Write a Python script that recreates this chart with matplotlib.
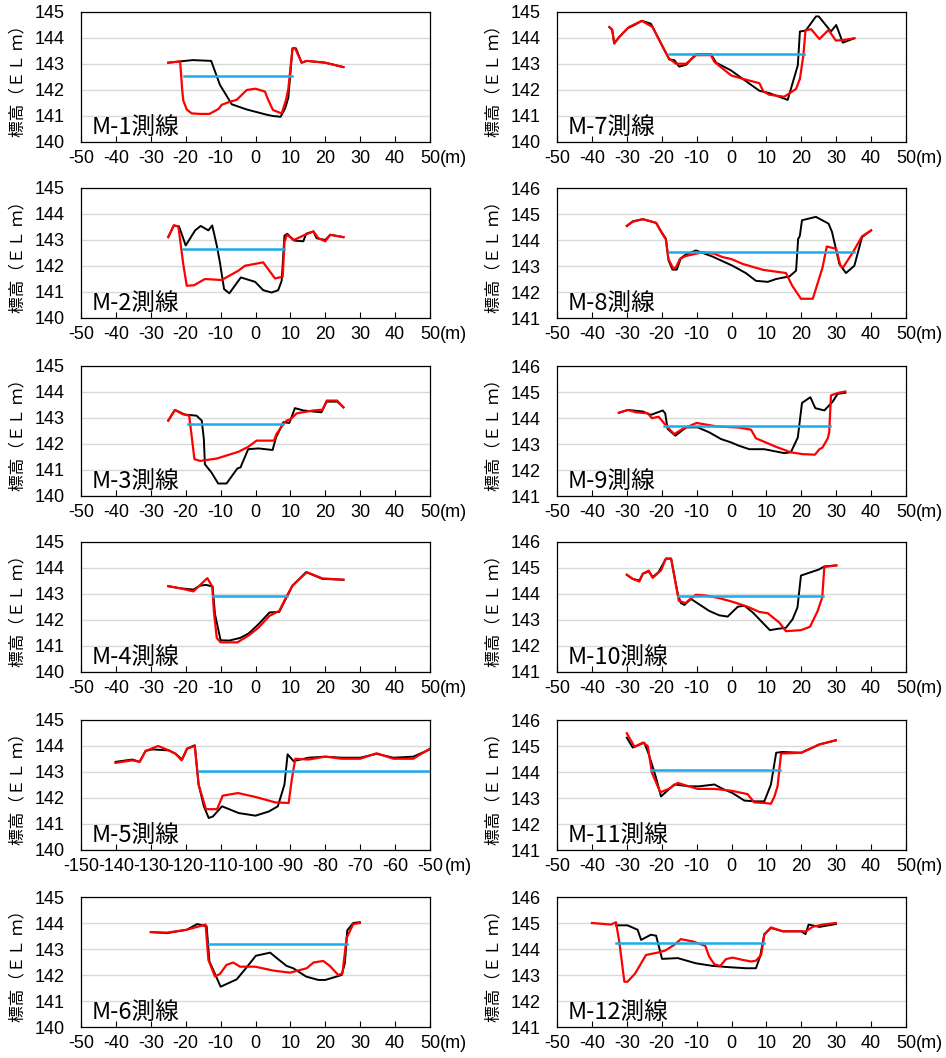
import matplotlib
matplotlib.use("Agg")
import matplotlib.pyplot as plt

plt.rcParams["font.family"] = ["Liberation Sans", "Noto Sans CJK JP"]
plt.rcParams["axes.unicode_minus"] = False

# ---- データ ----
m1_blk_x = [-25, -21.6, -18, -12.7, -10.2, -6.8, -2.5, 3.2, 5, 7.2, 8.5, 9.4, 10.6, 11.6, 13.2, 14.7, 20, 25.2]
m1_blk_y = [143.05, 143.1, 143.15, 143.12, 142.2, 141.45, 141.25, 141.05, 141.0, 140.97, 141.3, 141.7, 143.6, 143.6, 143.05, 143.12, 143.05, 142.88]
m1_red_x = [-25, -21.6, -21, -20.7, -19.7, -18.3, -15.9, -13.2, -10.6, -9.7, -7.3, -5.4, -2.5, 0, 2.7, 3.7, 5, 7.5, 8.7, 9.4, 10.6, 11.3, 13.2, 14.7, 20, 25.2]
m1_red_y = [143.05, 143.1, 142.0, 141.6, 141.25, 141.1, 141.08, 141.08, 141.27, 141.43, 141.55, 141.62, 142.0, 142.05, 141.94, 141.6, 141.23, 141.1, 141.6, 142.04, 143.6, 143.62, 143.05, 143.12, 143.05, 142.88]
m1_wx, m1_wl = [-20.6, 10.5], 142.52

m2_blk_x = [-25, -23.4, -21.9, -20, -17.3, -15.7, -13.5, -12.4, -11.1, -10.2, -9, -7.5, -4.2, -0.1, 2.2, 4.6, 6.5, 7.5, 8.3, 9.1, 11, 13.7, 14.5, 16.6, 17.5, 20, 21.4, 25.2]
m2_blk_y = [143.11, 143.56, 143.52, 142.79, 143.37, 143.54, 143.37, 143.56, 142.79, 142.14, 141.11, 140.95, 141.56, 141.39, 141.07, 140.98, 141.07, 141.43, 143.17, 143.24, 142.98, 142.95, 143.24, 143.33, 143.07, 143.0, 143.2, 143.11]
m2_red_x = [-25, -23.4, -22.1, -20.7, -19.7, -17.6, -14.5, -9.7, -4.9, -3, 2.2, 5.6, 7.8, 8.3, 9, 11, 13.7, 16.6, 18, 20, 21.4, 25.2]
m2_red_y = [143.11, 143.56, 143.52, 142.07, 141.24, 141.26, 141.5, 141.46, 141.82, 142.01, 142.14, 141.52, 141.59, 142.92, 143.2, 143.0, 143.17, 143.33, 143.07, 142.95, 143.2, 143.11]
m2_wx, m2_wl = [-20.9, 8.3], 142.65

m3_blk_x = [-25, -23.1, -20.2, -16.9, -15.4, -14.8, -14.5, -12.6, -10.7, -8.3, -5.2, -4.3, -2.1, 0.8, 4.9, 5.9, 8, 9.7, 11.3, 13.7, 16.6, 18.9, 20.4, 23.4, 25.2]
m3_blk_y = [142.9, 143.31, 143.13, 143.09, 142.9, 142.19, 141.22, 140.9, 140.48, 140.48, 141.06, 141.1, 141.8, 141.83, 141.77, 142.26, 142.84, 142.81, 143.38, 143.29, 143.25, 143.22, 143.63, 143.63, 143.41]
m3_red_x = [-25, -23.1, -20.9, -19, -17.5, -15.9, -11.1, -4.9, -2.1, 0.3, 5.3, 6, 8, 8.9, 10.1, 11.8, 16.6, 19.2, 20.4, 23.4, 25.2]
m3_red_y = [142.9, 143.31, 143.15, 143.09, 141.42, 141.35, 141.44, 141.7, 141.89, 142.13, 142.13, 142.38, 142.77, 142.9, 142.96, 143.18, 143.29, 143.32, 143.67, 143.67, 143.41]
m3_wx, m3_wl = [-19.2, 8], 142.77

m4_blk_x = [-25, -21.6, -17.8, -15.9, -14.2, -12.3, -11.6, -10, -7.5, -4.4, -2, 0.8, 4, 6.8, 8.9, 10.6, 14.5, 19.2, 25.2]
m4_blk_y = [143.3, 143.22, 143.17, 143.32, 143.35, 143.29, 142.22, 141.22, 141.21, 141.31, 141.48, 141.83, 142.29, 142.31, 142.87, 143.32, 143.84, 143.58, 143.55]
m4_red_x = [-25, -21.6, -17.8, -13.8, -12.4, -11.9, -11.1, -10, -5.2, -2, 0.8, 4, 6.8, 8.9, 10.6, 14.7, 19.2, 25.2]
m4_red_y = [143.3, 143.22, 143.1, 143.61, 143.29, 142.29, 141.31, 141.14, 141.14, 141.4, 141.7, 142.16, 142.35, 142.91, 143.32, 143.84, 143.6, 143.55]
m4_wx, m4_wl = [-12.1, 9.1], 142.91

m5_blk_x = [-140.1, -135.3, -133.2, -131.5, -129.6, -124.8, -122.9, -121, -119.6, -117.4, -116.3, -114.8, -113.4, -112.2, -109.6, -104.8, -100, -96.2, -93.6, -91.7, -90.8, -89.1, -84.8, -80, -75.3, -70, -65.3, -60.5, -54.8, -50]
m5_blk_y = [143.39, 143.48, 143.39, 143.81, 143.87, 143.83, 143.7, 143.48, 143.9, 144.03, 142.52, 141.68, 141.23, 141.29, 141.68, 141.42, 141.32, 141.48, 141.68, 142.52, 143.68, 143.42, 143.55, 143.59, 143.55, 143.55, 143.7, 143.55, 143.59, 143.87]
m5_red_x = [-140.1, -135.3, -133.2, -131.5, -127.9, -124.8, -122.9, -121.2, -119.6, -117.4, -116.3, -114.2, -111, -109.4, -105, -100, -94.3, -90.5, -89.6, -88.6, -84.8, -80, -75.3, -70, -65.3, -60.5, -54.8, -50]
m5_red_y = [143.35, 143.45, 143.39, 143.81, 144.0, 143.83, 143.7, 143.45, 143.9, 144.0, 142.52, 141.57, 141.57, 142.09, 142.19, 142.04, 141.83, 141.81, 142.71, 143.51, 143.48, 143.59, 143.51, 143.51, 143.72, 143.51, 143.51, 143.9]
m5_wx, m5_wl = [-116.1, -50], 143.03

m6_blk_x = [-30, -25.4, -19.7, -16.7, -14, -13.2, -12.1, -10, -5.4, -2.5, 0.1, 4.2, 6.1, 8.9, 10.8, 14.5, 18, 20, 24.7, 25.6, 26.3, 28, 29.9]
m6_blk_y = [143.65, 143.61, 143.74, 143.96, 143.87, 142.52, 142.19, 141.55, 141.83, 142.3, 142.74, 142.86, 142.65, 142.35, 142.26, 141.94, 141.81, 141.81, 142.0, 142.45, 143.72, 144.0, 144.03]
m6_red_x = [-30, -25.4, -19.7, -14.3, -13.5, -11.6, -10.2, -8.3, -6.4, -4.4, -0.1, 5.1, 9.9, 14.7, 16.6, 19.4, 21.3, 23.7, 24.9, 26.1, 28, 29.9]
m6_red_y = [143.65, 143.63, 143.74, 143.94, 142.58, 141.94, 142.04, 142.39, 142.48, 142.32, 142.32, 142.17, 142.09, 142.26, 142.48, 142.54, 142.35, 142.0, 142.06, 143.42, 143.96, 144.0]
m6_wx, m6_wl = [-13.2, 26.3], 143.19

m7_blk_x = [-35, -34.2, -33.6, -32.1, -29.7, -27.8, -25.7, -23.1, -17.8, -16.4, -15, -13, -10.2, -5.9, -4.4, -0.1, 3.2, 8, 10.8, 16.1, 19.0, 19.6, 21.3, 24.2, 25, 28.5, 30, 31.9, 35.2]
m7_blk_y = [144.42, 144.32, 143.79, 144.05, 144.38, 144.5, 144.66, 144.55, 143.17, 143.15, 142.9, 142.97, 143.38, 143.38, 143.05, 142.75, 142.43, 141.97, 141.88, 141.62, 142.95, 144.25, 144.29, 144.83, 144.83, 144.25, 144.5, 143.82, 143.99]
m7_red_x = [-35, -34.2, -33.6, -32.1, -29.4, -25.7, -22.6, -19.7, -18, -15.9, -13, -10.2, -5.9, -4.9, -2.5, -0.1, 3.2, 8, 9.1, 10.8, 15.1, 17, 18.5, 19.6, 20.6, 21.2, 22.8, 25.2, 27.8, 29.9, 31.9, 35.2]
m7_red_y = [144.42, 144.32, 143.79, 144.05, 144.42, 144.66, 144.42, 143.66, 143.23, 143.01, 143.01, 143.34, 143.34, 143.08, 142.82, 142.56, 142.43, 142.26, 141.95, 141.82, 141.74, 141.91, 142.04, 142.43, 143.34, 144.29, 144.34, 143.96, 144.31, 143.9, 143.92, 143.99]
m7_wx, m7_wl = [-18, 20.9], 143.38

m8_blk_x = [-30, -28.3, -25.4, -21.6, -20.2, -18.8, -18, -16.9, -15.7, -14.5, -13.2, -10.2, -5.4, 0.3, 4.2, 7, 10.4, 12.8, 16.6, 18.5, 19.1, 19.4, 19.6, 20.2, 24.2, 27.8, 28.8, 30.9, 32.8, 35.2, 37.4, 40]
m8_blk_y = [144.54, 144.72, 144.8, 144.66, 144.34, 144.05, 143.2, 142.86, 142.86, 143.3, 143.43, 143.6, 143.36, 143.01, 142.72, 142.43, 142.39, 142.5, 142.6, 142.82, 144.05, 144.1, 144.18, 144.76, 144.89, 144.63, 144.31, 143.08, 142.73, 143.01, 144.11, 144.37]
m8_red_x = [-30, -28.3, -25.4, -21.6, -20.2, -18.8, -18.1, -16.7, -15.9, -14.8, -13.2, -8.3, -4.9, -2.5, -0.1, 3.2, 9.1, 15.6, 17.4, 19.9, 23.3, 26.1, 27.3, 30, 31.2, 32, 34.7, 37.4, 40]
m8_red_y = [144.54, 144.7, 144.8, 144.66, 144.32, 144.02, 143.27, 142.91, 142.95, 143.27, 143.38, 143.53, 143.47, 143.34, 143.27, 143.08, 142.85, 142.73, 142.24, 141.74, 141.74, 142.95, 143.75, 143.66, 143.01, 142.95, 143.51, 144.14, 144.37]
m8_wx, m8_wl = [-18, 35.2], 143.53

m9_blk_x = [-32.3, -29.7, -25.4, -23.1, -19.7, -19, -18.3, -16.1, -13, -9.7, -6.4, -3, -0.1, 2.2, 5.1, 9.4, 12.8, 15.1, 17, 19, 20.2, 22.6, 24, 26.6, 29, 30.4, 32.6]
m9_blk_y = [144.2, 144.31, 144.25, 144.12, 144.29, 144.18, 143.58, 143.32, 143.64, 143.64, 143.45, 143.19, 143.06, 142.93, 142.8, 142.8, 142.71, 142.65, 142.68, 143.25, 144.58, 144.8, 144.38, 144.29, 144.63, 144.93, 144.97]
m9_red_x = [-32.3, -29.7, -27.4, -24, -22.8, -20.9, -18.3, -16.4, -14, -10, -4.4, 2.2, 5.6, 7, 12.8, 17, 20.4, 23.9, 25.2, 26.1, 27.6, 28, 28.5, 30.4, 32.6]
m9_red_y = [144.2, 144.31, 144.22, 144.18, 143.99, 144.05, 143.64, 143.38, 143.58, 143.81, 143.68, 143.63, 143.55, 143.22, 142.89, 142.68, 142.61, 142.59, 142.8, 142.87, 143.22, 143.45, 144.87, 144.96, 145.02]
m9_wx, m9_wl = [-19.2, 28.2], 143.71

m10_blk_x = [-30, -28.3, -26.4, -25.4, -23.7, -22.6, -20.9, -18.8, -17.3, -15.4, -14.5, -13.5, -11.6, -6.4, -3.5, -1.1, 0.1, 1.8, 3.7, 6.1, 9.4, 11, 13.2, 15.6, 17.5, 18.9, 19.9, 25, 26.6, 29.9]
m10_blk_y = [144.74, 144.58, 144.52, 144.78, 144.87, 144.65, 144.84, 145.36, 145.36, 144.0, 143.65, 143.58, 143.81, 143.35, 143.18, 143.13, 143.29, 143.51, 143.55, 143.29, 142.83, 142.61, 142.66, 142.7, 143.03, 143.48, 144.71, 144.94, 145.06, 145.1]
m10_red_x = [-30, -28.3, -26.4, -25.4, -23.7, -22.6, -20.2, -18.8, -17.3, -15.1, -13.2, -12.1, -10.2, -7.3, -3.5, 0.3, 4.6, 8, 10.4, 13.7, 15.6, 19.9, 22.5, 24.7, 26, 26.6, 30.1]
m10_red_y = [144.74, 144.58, 144.48, 144.78, 144.9, 144.62, 144.91, 145.36, 145.36, 143.74, 143.65, 143.78, 143.97, 143.94, 143.84, 143.7, 143.51, 143.31, 143.26, 142.9, 142.57, 142.61, 142.74, 143.35, 143.87, 145.04, 145.1]
m10_wx, m10_wl = [-15.2, 26.3], 143.91

m11_blk_x = [-30, -28.3, -25, -23.7, -21.6, -20.2, -16.4, -12.1, -9.2, -4.9, -2.5, 0.3, 3.7, 7, 9.4, 11.3, 12.8, 14.5, 20, 25.2, 29.9]
m11_blk_y = [145.32, 144.94, 145.13, 144.68, 143.77, 143.06, 143.52, 143.45, 143.45, 143.52, 143.35, 143.19, 142.9, 142.87, 142.87, 143.52, 144.74, 144.77, 144.74, 145.06, 145.22]
m11_red_x = [-30, -27.8, -25.4, -24, -22.8, -20.4, -18, -15.4, -13, -9.7, -4.9, -0.1, 4.6, 6.5, 9.4, 11.3, 12.3, 13.2, 14.2, 20, 25.2, 29.9]
m11_red_y = [145.49, 144.97, 145.13, 145.0, 143.97, 143.22, 143.35, 143.58, 143.48, 143.35, 143.35, 143.28, 143.15, 142.83, 142.81, 142.78, 143.06, 143.45, 144.71, 144.74, 145.06, 145.22]
m11_wx, m11_wl = [-23.1, 13.9], 144.06

m12_blk_x = [-33.1, -29.8, -26.9, -25.9, -23.1, -21.6, -19.9, -15.4, -10.2, -5.4, -0.6, 4.2, 7, 8.2, 9.4, 11.3, 14.7, 20, 21.2, 22.1, 25.2, 29.9]
m12_blk_y = [144.91, 144.91, 144.74, 144.35, 144.55, 144.51, 143.62, 143.65, 143.45, 143.35, 143.3, 143.26, 143.26, 143.71, 144.57, 144.81, 144.68, 144.68, 144.57, 144.94, 144.85, 144.96]
m12_red_x = [-40, -34.5, -33.1, -32.1, -30.7, -29.8, -27.6, -24.5, -21.2, -19, -16.4, -14.5, -11.1, -7.5, -6.4, -4.9, -3.2, -1.6, 0.3, 3.2, 5.6, 7, 8.5, 9.4, 11.3, 14.7, 20, 21.3, 23.2, 26.1, 29.9]
m12_red_y = [145.0, 144.94, 145.03, 144.23, 142.74, 142.74, 143.06, 143.77, 143.86, 143.94, 144.16, 144.38, 144.29, 144.12, 143.71, 143.41, 143.35, 143.61, 143.67, 143.58, 143.52, 143.55, 143.77, 144.55, 144.83, 144.68, 144.68, 144.68, 144.85, 144.94, 145.0]
m12_wx, m12_wl = [-33.1, 9.4], 144.23

# 各パネル: (名前, 黒, 赤, 水位, x範囲, y範囲, 列, 行)
panels = [
    ("M-1測線", m1_blk_x, m1_blk_y, m1_red_x, m1_red_y, m1_wx, m1_wl, (-50, 50), (140, 145), 0, 0),
    ("M-2測線", m2_blk_x, m2_blk_y, m2_red_x, m2_red_y, m2_wx, m2_wl, (-50, 50), (140, 145), 0, 1),
    ("M-3測線", m3_blk_x, m3_blk_y, m3_red_x, m3_red_y, m3_wx, m3_wl, (-50, 50), (140, 145), 0, 2),
    ("M-4測線", m4_blk_x, m4_blk_y, m4_red_x, m4_red_y, m4_wx, m4_wl, (-50, 50), (140, 145), 0, 3),
    ("M-5測線", m5_blk_x, m5_blk_y, m5_red_x, m5_red_y, m5_wx, m5_wl, (-150, -50), (140, 145), 0, 4),
    ("M-6測線", m6_blk_x, m6_blk_y, m6_red_x, m6_red_y, m6_wx, m6_wl, (-50, 50), (140, 145), 0, 5),
    ("M-7測線", m7_blk_x, m7_blk_y, m7_red_x, m7_red_y, m7_wx, m7_wl, (-50, 50), (140, 145), 1, 0),
    ("M-8測線", m8_blk_x, m8_blk_y, m8_red_x, m8_red_y, m8_wx, m8_wl, (-50, 50), (141, 146), 1, 1),
    ("M-9測線", m9_blk_x, m9_blk_y, m9_red_x, m9_red_y, m9_wx, m9_wl, (-50, 50), (141, 146), 1, 2),
    ("M-10測線", m10_blk_x, m10_blk_y, m10_red_x, m10_red_y, m10_wx, m10_wl, (-50, 50), (141, 146), 1, 3),
    ("M-11測線", m11_blk_x, m11_blk_y, m11_red_x, m11_red_y, m11_wx, m11_wl, (-50, 50), (141, 146), 1, 4),
    ("M-12測線", m12_blk_x, m12_blk_y, m12_red_x, m12_red_y, m12_wx, m12_wl, (-50, 50), (141, 146), 1, 5),
]

W, H = 946, 1058
col_left = [81, 557]
ax_w = 349
row_top = [12, 188, 366, 542, 720, 897]
ax_h = 130

fig = plt.figure(figsize=(W / 100, H / 100), dpi=100)

for name, bx, by, rx, ry, wx, wl, xlim, ylim, c, r in panels:
    left = col_left[c]
    top = row_top[r]
    ax = fig.add_axes([left / W, 1 - (top + ax_h) / H, ax_w / W, ax_h / H])

    ax.plot(bx, by, color="black", lw=1.4, zorder=3)
    ax.plot(rx, ry, color="#FF0000", lw=1.6, zorder=4)
    ax.plot(wx, [wl, wl], color="#1CACE8", lw=1.8, zorder=5)

    ax.set_xlim(*xlim)
    ax.set_ylim(*ylim)
    ax.set_xticks(range(xlim[0], xlim[1] + 1, 10))
    ax.set_yticks(range(ylim[0], ylim[1] + 1))
    ax.yaxis.grid(True, color="#D9D9D9", lw=1)
    ax.set_axisbelow(True)
    ax.tick_params(axis="x", direction="in", length=4, width=0.8, labelsize=13, pad=6)
    ax.tick_params(axis="y", length=0, labelsize=13, pad=12)
    for s in ax.spines.values():
        s.set_linewidth(0.9)

    ax.set_ylabel("標高（ＥＬ ｍ）", family=["Noto Sans CJK JP"], fontsize=12)
    ax.yaxis.set_label_coords(-0.155, 0.5)

    ax.text(0.03, 0.015, name, transform=ax.transAxes, fontsize=17,
            family=["Noto Sans CJK JP"], ha="left", va="bottom", zorder=6)
    # 単位 (m) は最後の目盛ラベルの右側
    dx = 11 if xlim[1] < 0 else 7
    ax.annotate("(m)", xy=(1, 0), xycoords="axes fraction", xytext=(dx, -6),
                textcoords="offset points", ha="left", va="top", fontsize=13)

fig.savefig("out.png", dpi=100)
